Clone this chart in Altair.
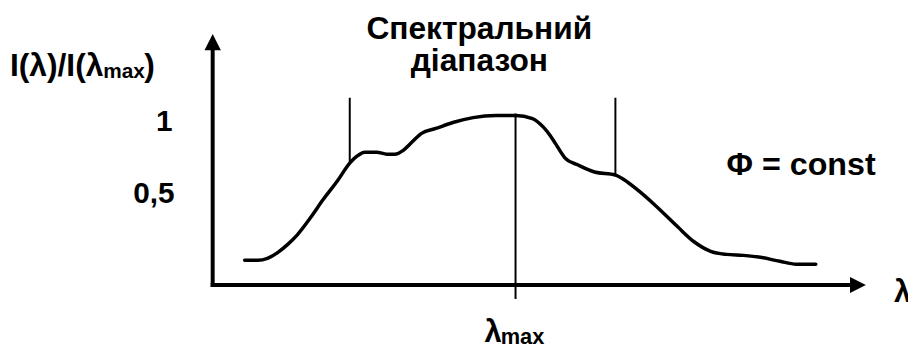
import altair as alt
import pandas as pd

FONT = "Liberation Sans, Arial, sans-serif"

# ---- data (wavelength in arbitrary units, intensity relative to max) ----
wavelength = [4.9, 6.9, 8.4, 10.0, 11.5, 13.0, 15.0, 16.9, 19.1, 21.0, 22.1, 23.3, 25.1,
              26.7, 27.9, 29.2, 30.5, 32.0, 34.2, 36.8, 39.9, 43.4, 46.4, 49.0, 50.7,
              51.7, 52.5, 54.0, 56.0, 58.5, 61.7, 63.1, 65.1, 67.7, 71.2, 73.7, 76.3,
              78.7, 81.3, 83.9, 86.9, 89.4, 92.4]
intensity = [0.146, 0.146, 0.158, 0.193, 0.240, 0.298, 0.398, 0.503, 0.614, 0.719, 0.760,
             0.784, 0.784, 0.772, 0.772, 0.795, 0.842, 0.895, 0.924, 0.959, 0.988, 1.000,
             1.000, 0.982, 0.930, 0.883, 0.836, 0.749, 0.708, 0.667, 0.649, 0.620, 0.561,
             0.474, 0.345, 0.257, 0.199, 0.181, 0.175, 0.164, 0.140, 0.123, 0.123]

band_edges = [21.0, 61.7]          # limits of the spectral range
band_edge_intensity = [0.719, 0.649]
lam_max = 46.4                      # wavelength of the maximum

tick_values = [1.0, 0.5]
tick_labels = ["1", "0,5"]

# ---- scales (shared by all layers) ----
xs = alt.Scale(domain=[0, 100], range=[206.5, 865], nice=False, zero=False)
ys = alt.Scale(domain=[0, 1], range=[278, 107], nice=False, zero=False)


def X(v, **kw):
    if isinstance(v, str):
        return alt.X(v, type="quantitative", scale=xs, axis=None, **kw)
    return alt.X(datum=v, type="quantitative", scale=xs, axis=None, **kw)


def Y(v, **kw):
    if isinstance(v, str):
        return alt.Y(v, type="quantitative", scale=ys, axis=None, **kw)
    return alt.Y(datum=v, type="quantitative", scale=ys, axis=None, **kw)


curve_df = pd.DataFrame({"wl": wavelength, "I": intensity})
curve = alt.Chart(curve_df).mark_line(
    color="black", strokeWidth=3.5, interpolate="monotone", strokeCap="round"
).encode(x=X("wl"), y=Y("I"))

edges_df = pd.DataFrame({"wl": band_edges, "I": band_edge_intensity, "top": [1.105, 1.105]})
edges = alt.Chart(edges_df).mark_rule(color="black", strokeWidth=2).encode(
    x=X("wl"), y=Y("I"), y2=alt.Y2("top")
)

max_df = pd.DataFrame({"wl": [lam_max], "lo": [-0.082], "hi": [1.012]})
max_rule = alt.Chart(max_df).mark_rule(color="black", strokeWidth=2).encode(
    x=X("wl"), y=Y("lo"), y2=alt.Y2("hi")
)

# axes with arrows
axis_df = pd.DataFrame({"x0": [0, 0], "x1": [0, 98.86], "y0": [0, 0], "y1": [1.433, 0]})
axes = alt.Chart(axis_df).mark_rule(color="black", strokeWidth=4, strokeCap="square").encode(
    x=X("x0"), x2=alt.X2("x1"), y=Y("y0"), y2=alt.Y2("y1")
)
arrow_up = alt.Chart(pd.DataFrame({"x": [0], "y": [1.433]})).mark_point(
    shape="M0,-1L1,1L-1,1Z", size=272, filled=True, color="black", opacity=1, strokeWidth=0
).encode(x=X("x"), y=Y("y"))
arrow_right = alt.Chart(pd.DataFrame({"x": [98.86], "y": [0]})).mark_point(
    shape="M1,0L-1,1L-1,-1Z", size=256, filled=True, color="black", opacity=1, strokeWidth=0
).encode(x=X("x"), y=Y("y"))

# y tick labels
tick1 = alt.Chart(pd.DataFrame({"v": [tick_values[0]], "t": [tick_labels[0]]})).mark_text(
    align="right", baseline="alphabetic", fontSize=30, fontWeight="bold", font=FONT, color="black",
    dx=-40.5, dy=16
).encode(x=X(0), y=Y("v"), text="t:N")
tick2 = alt.Chart(pd.DataFrame({"v": [tick_values[1]], "t": [tick_labels[1]]})).mark_text(
    align="right", baseline="alphabetic", fontSize=30, fontWeight="bold", font=FONT, color="black",
    dx=-38.5, dy=2.5
).encode(x=X(0), y=Y("v"), text="t:N")

# lambda_max label under the axis
lm_df = pd.DataFrame({"wl": [lam_max]})
lm_main = alt.Chart(lm_df).mark_text(
    text="λ", align="right", baseline="alphabetic", fontSize=31, fontWeight="bold", font=FONT,
    color="black", dx=-14, dy=57
).encode(x=X("wl"), y=Y(0))
lm_sub = alt.Chart(lm_df).mark_text(
    text="max", align="left", baseline="alphabetic", fontSize=22, fontWeight="bold", font=FONT,
    color="black", dx=-15, dy=59
).encode(x=X("wl"), y=Y(0))


def label(text, px, py, size, align="left", **kw):
    return alt.Chart(pd.DataFrame({"t": [text]})).mark_text(
        align=align, baseline="alphabetic", fontSize=size, fontWeight="bold", font=FONT,
        color="black", **kw
    ).encode(x=alt.value(px - 8), y=alt.value(py - 8), text="t:N")


texts = [
    label("Спектральний\nдіапазон", 483.5, 38, 32, "center", lineBreak="\n", lineHeight=32),
    label("Φ = const", 733, 175, 32.5),
    label("λ", 902, 303, 31),
    label("I(λ)/I(λ", 10, 75, 32),
    label("max", 104, 77, 21),
    label(")", 156, 75, 32, "right"),
]

chart = alt.layer(
    axes, arrow_up, arrow_right, curve, edges, max_rule, tick1, tick2, lm_main, lm_sub, *texts
).properties(
    width=908, height=341, autosize=alt.AutoSizeParams(type="none"), padding=0
).configure_view(stroke=None)

chart.save("out.html", embed_options={"renderer": "svg", "actions": False})
